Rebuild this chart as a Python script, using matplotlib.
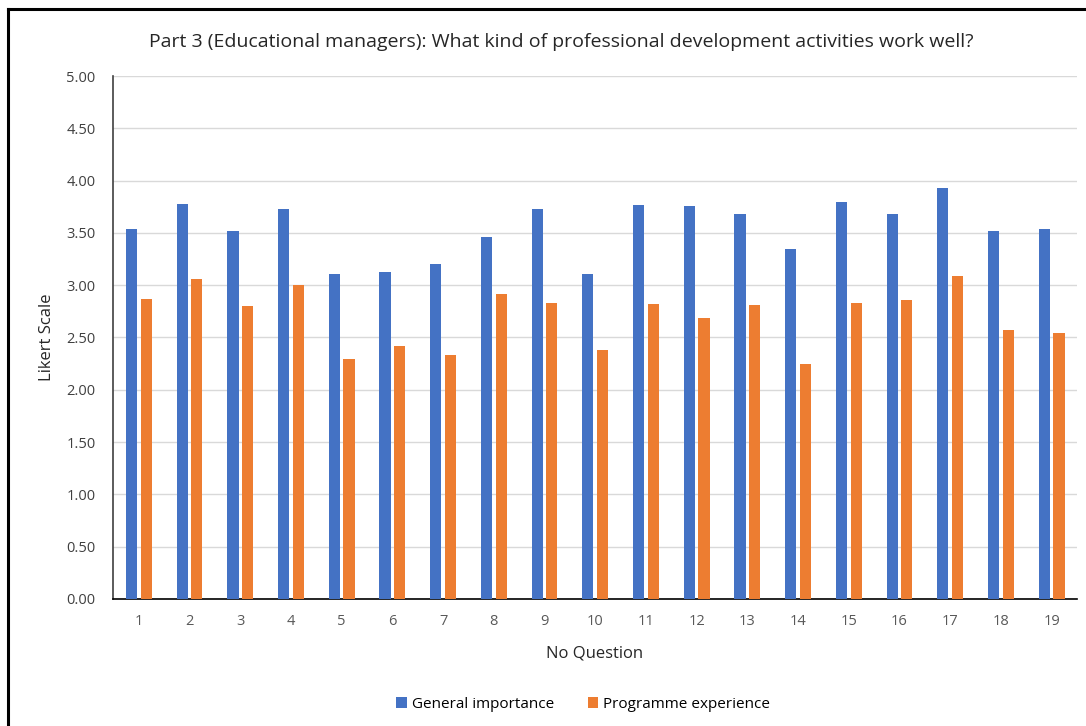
import numpy as np
import matplotlib.pyplot as plt
from matplotlib.lines import Line2D

# 質問番号
questions = [str(i) for i in range(1, 20)]

# 各系列の値（Likert 平均）
general_importance = [3.54, 3.78, 3.52, 3.73, 3.11, 3.13, 3.20, 3.46, 3.73, 3.11,
                      3.77, 3.76, 3.68, 3.35, 3.80, 3.68, 3.93, 3.52, 3.54]
programme_experience = [2.87, 3.06, 2.80, 3.00, 2.29, 2.42, 2.33, 2.92, 2.83, 2.38,
                        2.82, 2.69, 2.81, 2.25, 2.83, 2.86, 3.09, 2.57, 2.54]

y_ticks = [0, 0.5, 1.0, 1.5, 2.0, 2.5, 3.0, 3.5, 4.0, 4.5, 5.0]

BLUE = "#4472c4"
ORANGE = "#ed7d31"

plt.rcParams['font.family'] = ['Open Sans', 'DejaVu Sans']

fig = plt.figure(figsize=(10.86, 7.26), dpi=100)
fig.patch.set_facecolor("white")
ax = fig.add_axes([0.104, 0.175, 0.8877, 0.7203])

x = np.arange(1, len(questions) + 1)
w = 0.22
ax.bar(x - 0.144, general_importance, width=w, color=BLUE, label="General importance", zorder=3)
ax.bar(x + 0.144, programme_experience, width=w, color=ORANGE, label="Programme experience", zorder=3)

ax.set_xlim(0.49, 19.5)
ax.set_ylim(0, 5)
ax.set_yticks(y_ticks)
ax.set_yticklabels([f"{v:.2f}" for v in y_ticks], fontsize=10.5, color="#404040")
ax.set_xticks(x)
ax.set_xticklabels(questions, fontsize=10.5, color="#595959")
ax.tick_params(axis="both", length=0)
ax.tick_params(axis="x", pad=11)
ax.tick_params(axis="y", pad=12.5)

ax.grid(axis="y", color="#d9d9d9", linewidth=1, zorder=0)
for s in ["top", "right"]:
    ax.spines[s].set_visible(False)
ax.spines["left"].set_color("#404040")
ax.spines["left"].set_linewidth(1.2)
ax.spines["bottom"].set_color("black")
ax.spines["bottom"].set_linewidth(1.2)

ax.set_xlabel("No Question", fontsize=12, color="#262626", labelpad=12)
ax.set_ylabel("Likert Scale", fontsize=12, color="#262626", labelpad=8)

fig.text(0.517, 0.942, "Part 3 (Educational managers): What kind of professional development activities work well?",
         ha="center", va="center", fontsize=14, color="#262626")

fig.legend(loc="center", bbox_to_anchor=(0.537, 0.030), ncol=2, frameon=False,
           fontsize=11, handlelength=0.7, handleheight=0.7, handletextpad=0.3, columnspacing=2.2)

# 外枠（上と左）
fig.add_artist(Line2D([0.0075, 1.0], [0.9875, 0.9875], transform=fig.transFigure, color="black", linewidth=2.2))
fig.add_artist(Line2D([0.0075, 0.0075], [0.0, 0.9875], transform=fig.transFigure, color="black", linewidth=2.2))

plt.savefig("out.png", dpi=100, facecolor="white")
